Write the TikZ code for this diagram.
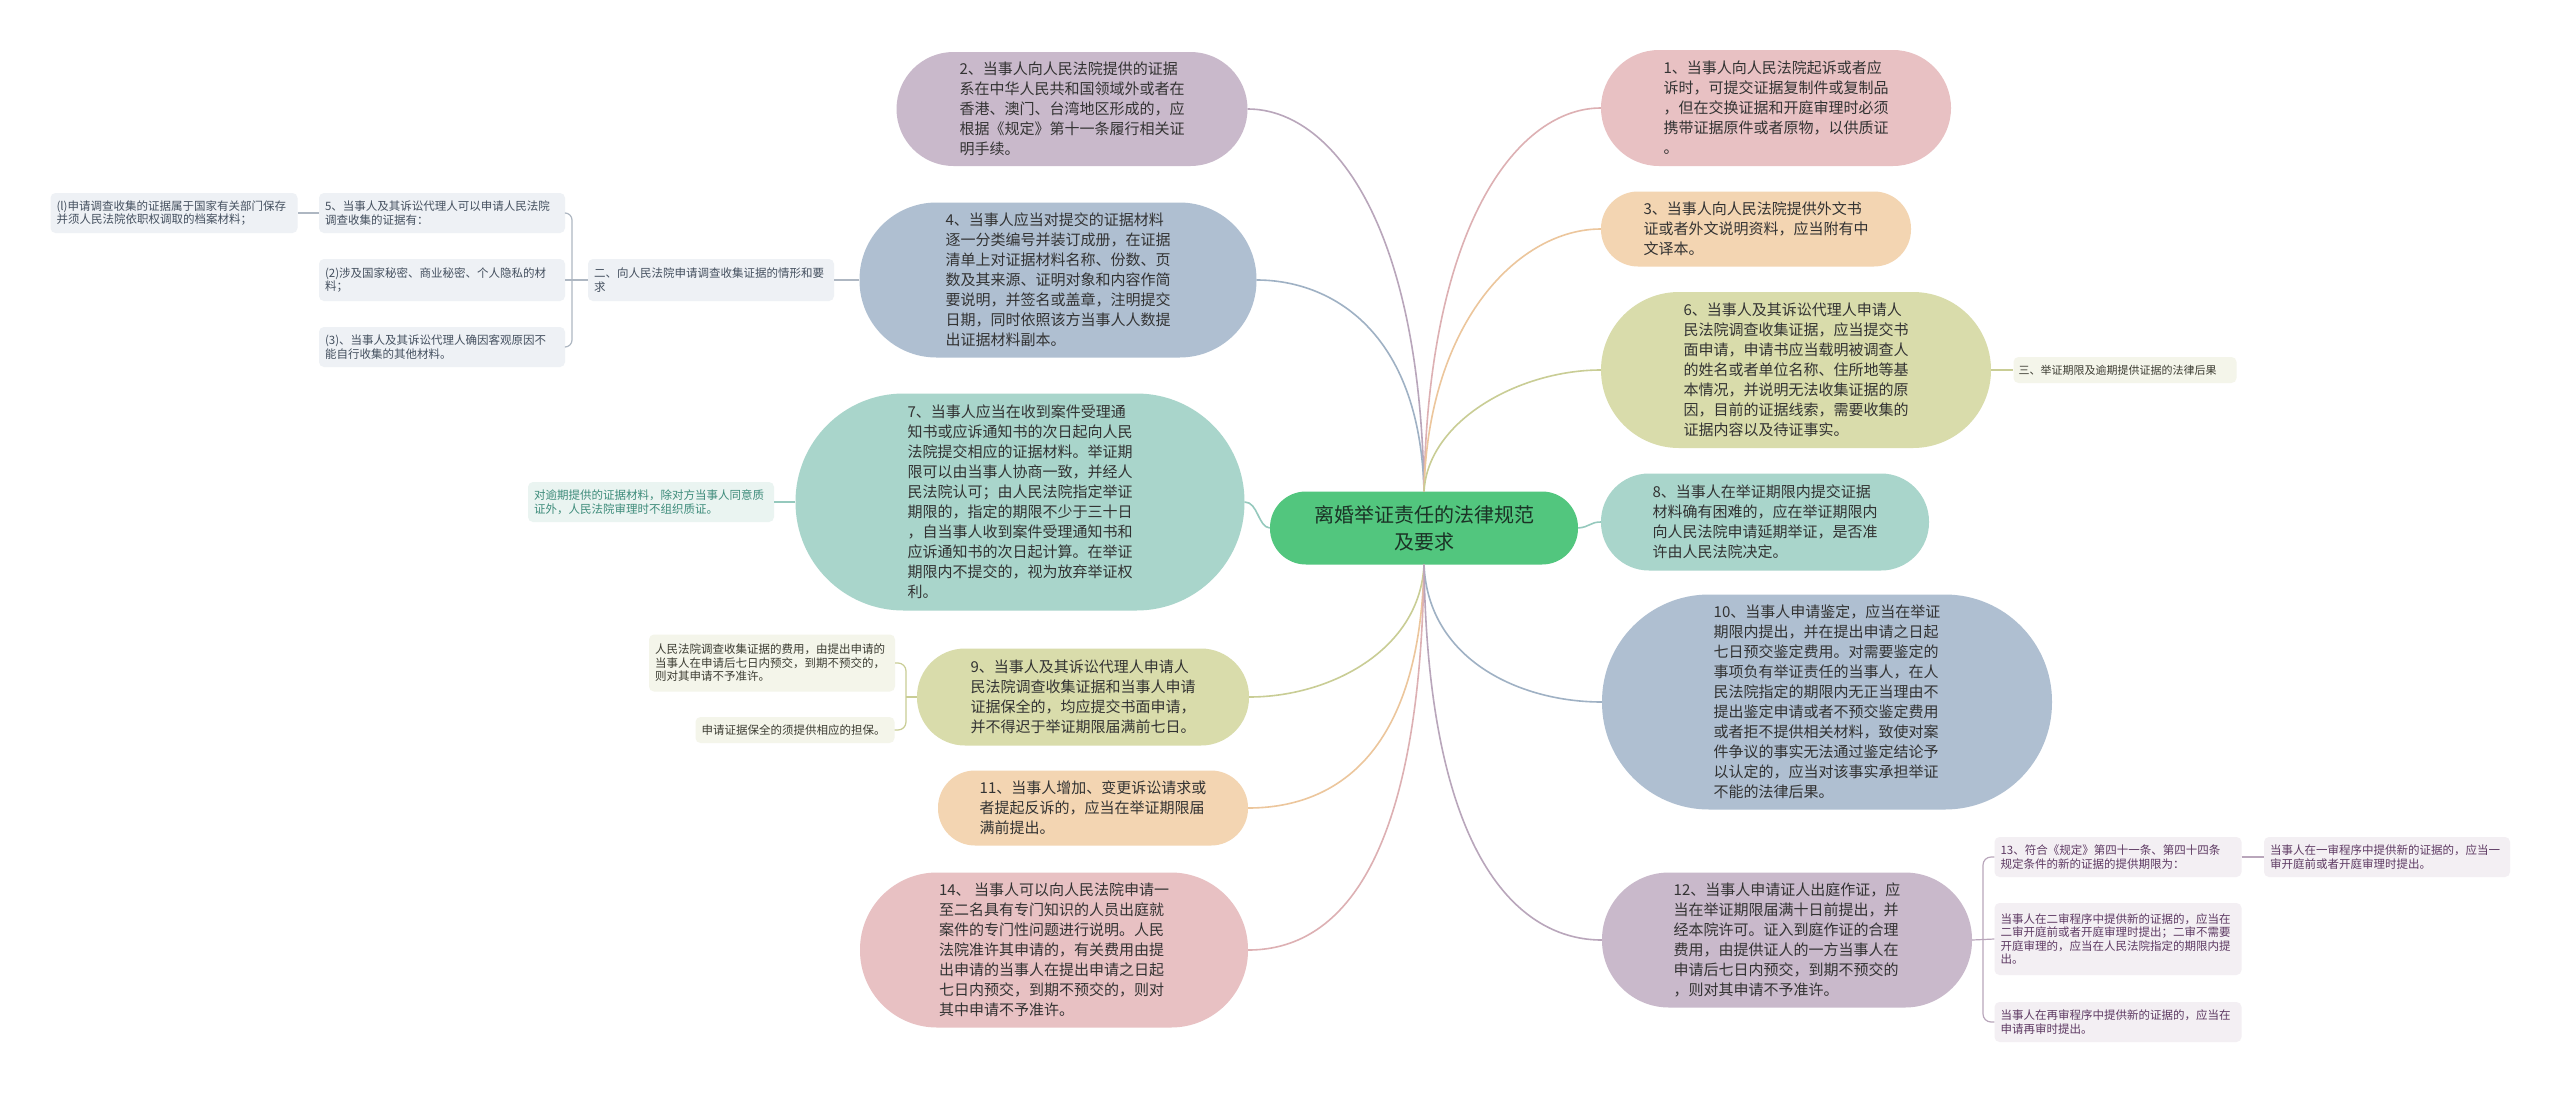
\documentclass[tikz,border=0pt]{standalone}
\usepackage{fontspec}
\setmainfont{Noto Sans CJK SC}
\usetikzlibrary{calc}
\definecolor{cgreen}{HTML}{52C67E}
\definecolor{cpurple}{HTML}{C9B9CB}
\definecolor{cblue}{HTML}{AFBFD1}
\definecolor{cteal}{HTML}{A9D5CB}
\definecolor{colive}{HTML}{D9DCAB}
\definecolor{cpeach}{HTML}{F3D5B2}
\definecolor{cpink}{HTML}{E8C1C3}
\definecolor{kpurple}{HTML}{B9A6BB}
\definecolor{kblue}{HTML}{9FB1C4}
\definecolor{kteal}{HTML}{95C9BD}
\definecolor{kolive}{HTML}{C9CD95}
\definecolor{kpeach}{HTML}{ECC69C}
\definecolor{kpink}{HTML}{DDB0B3}
\definecolor{maintext}{HTML}{333333}
\definecolor{ctext}{HTML}{1B3326}
\definecolor{fgrey}{HTML}{EEF1F5}
\definecolor{tgrey}{HTML}{44505F}
\definecolor{kgrey}{HTML}{AEB7C2}
\definecolor{fteal}{HTML}{EAF4F1}
\definecolor{tteal}{HTML}{3E8C7B}
\definecolor{folive}{HTML}{F4F5EA}
\definecolor{tolive}{HTML}{3D3D33}
\definecolor{fpurple}{HTML}{F3EFF3}
\definecolor{tpurple}{HTML}{5E3A63}
\tikzset{
  mainbox/.style={rectangle, inner sep=0pt, align=left, text=maintext, font=\fontsize{15}{20}\selectfont},
  leafbox/.style={rectangle, rounded corners=5pt, inner xsep=6pt, inner ysep=0pt, align=left, font=\fontsize{11.5}{13.5}\selectfont},
  branch/.style={line width=1.6pt},
  twig/.style={line width=1.2pt},
}
\begin{document}
\begin{tikzpicture}[x=1pt,y=-1pt]
\fill[white] (0,0) rectangle (2560,1093);
\useasboundingbox (0,0) rectangle (2560,1093);

% central
\node[rectangle, inner sep=0pt, fill=cgreen, minimum width=308pt, minimum height=73pt, rounded corners=36pt, align=center, text=ctext, font=\fontsize{20}{27}\selectfont] (c) at (1424,528) {离婚举证责任的法律规范\\及要求};

% right main nodes
\node[mainbox, fill=cpink, minimum width=350pt, minimum height=116pt, rounded corners=58pt] (n1) at (1776,108) {1、当事人向人民法院起诉或者应\\诉时，可提交证据复制件或复制品\\，但在交换证据和开庭审理时必须\\携带证据原件或者原物，以供质证\\。};
\node[mainbox, fill=cpeach, minimum width=310pt, minimum height=75pt, rounded corners=37pt] (n3) at (1756,229) {3、当事人向人民法院提供外文书\\证或者外文说明资料，应当附有中\\文译本。};
\node[mainbox, fill=colive, minimum width=390pt, minimum height=156pt, rounded corners=78pt] (n6) at (1796,370) {6、当事人及其诉讼代理人申请人\\民法院调查收集证据，应当提交书\\面申请，申请书应当载明被调查人\\的姓名或者单位名称、住所地等基\\本情况，并说明无法收集证据的原\\因，目前的证据线索，需要收集的\\证据内容以及待证事实。};
\node[mainbox, fill=cteal, minimum width=328pt, minimum height=97pt, rounded corners=48pt] (n8) at (1765,522) {8、当事人在举证期限内提交证据\\材料确有困难的，应在举证期限内\\向人民法院申请延期举证，是否准\\许由人民法院决定。};
\node[mainbox, fill=cblue, minimum width=450pt, minimum height=215pt, rounded corners=107pt] (n10) at (1827,702) {10、当事人申请鉴定，应当在举证\\期限内提出，并在提出申请之日起\\七日预交鉴定费用。对需要鉴定的\\事项负有举证责任的当事人，在人\\民法院指定的期限内无正当理由不\\提出鉴定申请或者不预交鉴定费用\\或者拒不提供相关材料，致使对案\\件争议的事实无法通过鉴定结论予\\以认定的，应当对该事实承担举证\\不能的法律后果。};
\node[mainbox, fill=cpurple, minimum width=370pt, minimum height=135pt, rounded corners=67pt] (n12) at (1787,940) {12、当事人申请证人出庭作证，应\\当在举证期限届满十日前提出，并\\经本院许可。证入到庭作证的合理\\费用，由提供证人的一方当事人在\\申请后七日内预交，到期不预交的\\，则对其申请不予准许。};

% left main nodes
\node[mainbox, fill=cpurple, minimum width=351pt, minimum height=114pt, rounded corners=57pt] (n2) at (1072,109) {2、当事人向人民法院提供的证据\\系在中华人民共和国领域外或者在\\香港、澳门、台湾地区形成的，应\\根据《规定》第十一条履行相关证\\明手续。};
\node[mainbox, fill=cblue, minimum width=397pt, minimum height=155pt, rounded corners=77pt] (n4) at (1058,280) {4、当事人应当对提交的证据材料\\逐一分类编号并装订成册，在证据\\清单上对证据材料名称、份数、页\\数及其来源、证明对象和内容作简\\要说明，并签名或盖章，注明提交\\日期，同时依照该方当事人人数提\\出证据材料副本。};
\node[mainbox, fill=cteal, minimum width=449pt, minimum height=217pt, rounded corners=108pt] (n7) at (1020,502) {7、当事人应当在收到案件受理通\\知书或应诉通知书的次日起向人民\\法院提交相应的证据材料。举证期\\限可以由当事人协商一致，并经人\\民法院认可；由人民法院指定举证\\期限的，指定的期限不少于三十日\\，自当事人收到案件受理通知书和\\应诉通知书的次日起计算。在举证\\期限内不提交的，视为放弃举证权\\利。};
\node[mainbox, fill=colive, minimum width=332pt, minimum height=97pt, rounded corners=48pt] (n9) at (1083,697) {9、当事人及其诉讼代理人申请人\\民法院调查收集证据和当事人申请\\证据保全的，均应提交书面申请，\\并不得迟于举证期限届满前七日。};
\node[mainbox, fill=cpeach, minimum width=310pt, minimum height=75pt, rounded corners=37pt] (n11) at (1093,808) {11、当事人增加、变更诉讼请求或\\者提起反诉的，应当在举证期限届\\满前提出。};
\node[mainbox, fill=cpink, minimum width=388pt, minimum height=155pt, rounded corners=77pt] (n14) at (1054,950) {14、 当事人可以向人民法院申请一\\至二名具有专门知识的人员出庭就\\案件的专门性问题进行说明。人民\\法院准许其申请的，有关费用由提\\出申请的当事人在提出申请之日起\\七日内预交，到期不预交的，则对\\其中申请不予准许。};

% left section leaves
\node[leafbox, fill=fgrey, text=tgrey, text width=234pt, minimum height=42pt] (sec2) at (711,280) {二、向人民法院申请调查收集证据的情形和要\\求};
\node[leafbox, fill=fgrey, text=tgrey, text width=234pt, minimum height=40pt] (l5) at (442,213) {5、当事人及其诉讼代理人可以申请人民法院\\调查收集的证据有：};
\node[leafbox, fill=fgrey, text=tgrey, text width=234pt, minimum height=42pt] (l2) at (442,280) {(2)涉及国家秘密、商业秘密、个人隐私的材\\料；};
\node[leafbox, fill=fgrey, text=tgrey, text width=234pt, minimum height=40pt] (l3) at (442,347) {(3)、当事人及其诉讼代理人确因客观原因不\\能自行收集的其他材料。};
\node[leafbox, fill=fgrey, text=tgrey, text width=235pt, minimum height=40pt] (l1) at (174,213) {(l)申请调查收集的证据属于国家有关部门保存\\并须人民法院依职权调取的档案材料；};

\node[leafbox, fill=fteal, text=tteal, text width=234pt, minimum height=40pt] (l7) at (651,502) {对逾期提供的证据材料，除对方当事人同意质\\证外，人民法院审理时不组织质证。};

\node[leafbox, fill=folive, text=tolive, text width=234pt, minimum height=57pt] (l9a) at (772,663) {人民法院调查收集证据的费用，由提出申请的\\当事人在申请后七日内预交，到期不预交的，\\则对其申请不予准许。};
\node[leafbox, fill=folive, text=tolive, text width=187pt, minimum height=26pt] (l9b) at (795,730) {申请证据保全的须提供相应的担保。};

% right leaves
\node[leafbox, fill=folive, text=tolive, text width=213pt, inner xsep=5pt, minimum height=26pt, font=\fontsize{11}{13}\selectfont] (s3) at (2125,370) {三、举证期限及逾期提供证据的法律后果};
\node[leafbox, fill=fpurple, text=tpurple, text width=235pt, minimum height=40pt] (r13) at (2118,857) {13、符合《规定》第四十一条、第四十四条\\规定条件的新的证据的提供期限为：};
\node[leafbox, fill=fpurple, text=tpurple, text width=234pt, minimum height=40pt] (r13a) at (2387,857) {当事人在一审程序中提供新的证据的，应当一\\审开庭前或者开庭审理时提出。};
\node[leafbox, fill=fpurple, text=tpurple, text width=235pt, minimum height=72pt] (r2) at (2118,939) {当事人在二审程序中提供新的证据的，应当在\\二审开庭前或者开庭审理时提出；二审不需要\\开庭审理的，应当在人民法院指定的期限内提\\出。};
\node[leafbox, fill=fpurple, text=tpurple, text width=235pt, minimum height=40pt] (r3) at (2118,1022) {当事人在再审程序中提供新的证据的，应当在\\申请再审时提出。};

% branches from the centre, left
\begin{scope}[on background layer/.style={}]
\draw[branch, kpurple] (c.north) .. controls (1420,220) and (1330,109) .. (n2.east);
\draw[branch, kblue] (c.north) .. controls (1420,330) and (1330,280) .. (n4.east);
\draw[branch, kteal] (c.west) .. controls (1258,527) and (1258,502) .. (n7.east);
\draw[branch, kolive] (c.south) .. controls (1420,650) and (1330,697) .. (n9.east);
\draw[branch, kpeach] (c.south) .. controls (1420,760) and (1330,808) .. (n11.east);
\draw[branch, kpink] (c.south) .. controls (1420,880) and (1330,950) .. (n14.east);
% right
\draw[branch, kpink] (c.north) .. controls (1428,220) and (1520,108) .. (n1.west);
\draw[branch, kpeach] (c.north) .. controls (1428,320) and (1520,229) .. (n3.west);
\draw[branch, kolive] (c.north) .. controls (1428,420) and (1520,370) .. (n6.west);
\draw[branch, kteal] (c.east) .. controls (1590,527) and (1590,522) .. (n8.west);
\draw[branch, kblue] (c.south) .. controls (1428,660) and (1520,702) .. (n10.west);
\draw[branch, kpurple] (c.south) .. controls (1428,860) and (1520,940) .. (n12.west);
\end{scope}

% sub connectors
\coordinate (b2) at (572,280);
\draw[twig, kgrey] (n4.west) -- (sec2.east);
\draw[twig, kgrey, rounded corners=7pt] (l5.east) -| (b2) |- (l3.east);
\draw[twig, kgrey] (l2.east) -- (sec2.west);
\draw[twig, kgrey] (l5.west) -- (l1.east);
\draw[twig, kteal] (n7.west) -- (l7.east);
\coordinate (b9) at (906,697);
\draw[twig, kolive, rounded corners=8pt] (l9a.east) -| (b9) |- (l9b.east);
\draw[twig, kolive] (b9) -- (n9.west);
\draw[twig, kolive] (n6.east) -- (s3.west);
\coordinate (b12) at (1983,940);
\draw[twig, kpurple, rounded corners=8pt] (r13.west) -| (b12) |- (r3.west);
\draw[twig, kpurple] (n12.east) -- (r2.west);
\draw[twig, kpurple] (r13.east) -- (r13a.west);
\end{tikzpicture}
\end{document}
